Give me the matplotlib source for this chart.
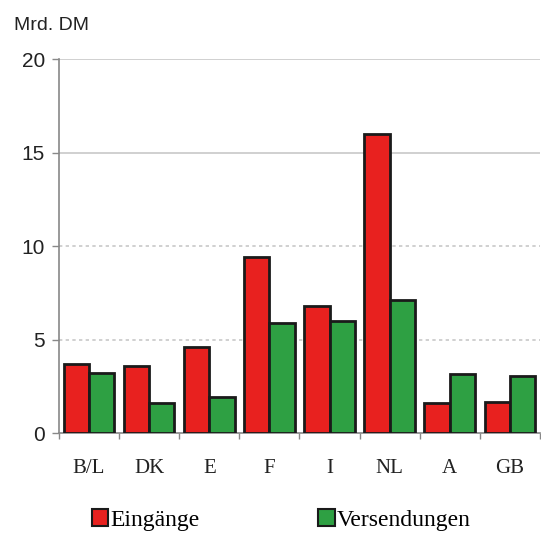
import numpy as np
import matplotlib.pyplot as plt
from matplotlib.patches import Patch

countries = ["B/L", "DK", "E", "F", "I", "NL", "A", "GB"]
eingaenge = [3.7, 3.6, 4.6, 9.4, 6.8, 16.0, 1.6, 1.65]
versendungen = [3.2, 1.6, 1.9, 5.9, 6.0, 7.1, 3.15, 3.05]

red = "#e8211f"
green = "#2ea043"

fig = plt.figure(figsize=(5.41, 5.33), dpi=100)
ax = fig.add_axes([0.109, 0.1876, 0.889, 0.7014])

x = np.arange(len(countries))
w = 0.42
ax.bar(x - w / 2, eingaenge, w, color=red, edgecolor="#1a1a1a", linewidth=2, zorder=3)
ax.bar(x + w / 2, versendungen, w, color=green, edgecolor="#1a1a1a", linewidth=2, zorder=3)

ax.set_xlim(-0.5, len(countries) - 0.5)
ax.set_ylim(0, 20)

# gridlines: solid at 15/20, dotted at 5/10
for yv, ls in [(20, "-"), (15, "-"), (10, (0, (2, 2))), (5, (0, (2, 2)))]:
    ax.axhline(yv, color="#c8c8c8", linewidth=1.2, linestyle=ls, zorder=1)

ax.set_yticks([0, 5, 10, 15, 20])
ax.set_yticklabels(["0", "5", "10", "15", "20"], fontsize=15, family="Liberation Sans", color="#222222")
ax.tick_params(axis="y", length=5, width=1, color="#888888", pad=5)

# category labels in serif, ticks between groups
ax.set_xticks(np.arange(len(countries) + 1) - 0.5)
ax.set_xticklabels([])
ax.tick_params(axis="x", length=4, width=1, color="#888888")
for i, c in enumerate(countries):
    ax.text(i, -1.9, c, ha="center", va="center", fontsize=15,
            family="Liberation Serif", color="#222222")

for s in ["top", "right"]:
    ax.spines[s].set_visible(False)
ax.spines["left"].set_color("#888888")
ax.spines["bottom"].set_color("#888888")
ax.spines["left"].set_linewidth(1.2)
ax.spines["bottom"].set_linewidth(1.2)

fig.text(0.026, 0.953, "Mrd. DM", fontsize=14, family="Liberation Sans",
         color="#222222", va="center")

handles = [Patch(facecolor=red, edgecolor="#1a1a1a", linewidth=1.5),
           Patch(facecolor=green, edgecolor="#1a1a1a", linewidth=1.5)]
leg = fig.legend(handles, ["Eingänge", "Versendungen"], loc="center",
                 bbox_to_anchor=(0.52, 0.024), ncol=2, frameon=False,
                 prop={"family": "Liberation Serif", "size": 17},
                 handlelength=0.7, handleheight=0.7, handletextpad=0.1,
                 columnspacing=5.0)

plt.savefig("out.png", dpi=100)
